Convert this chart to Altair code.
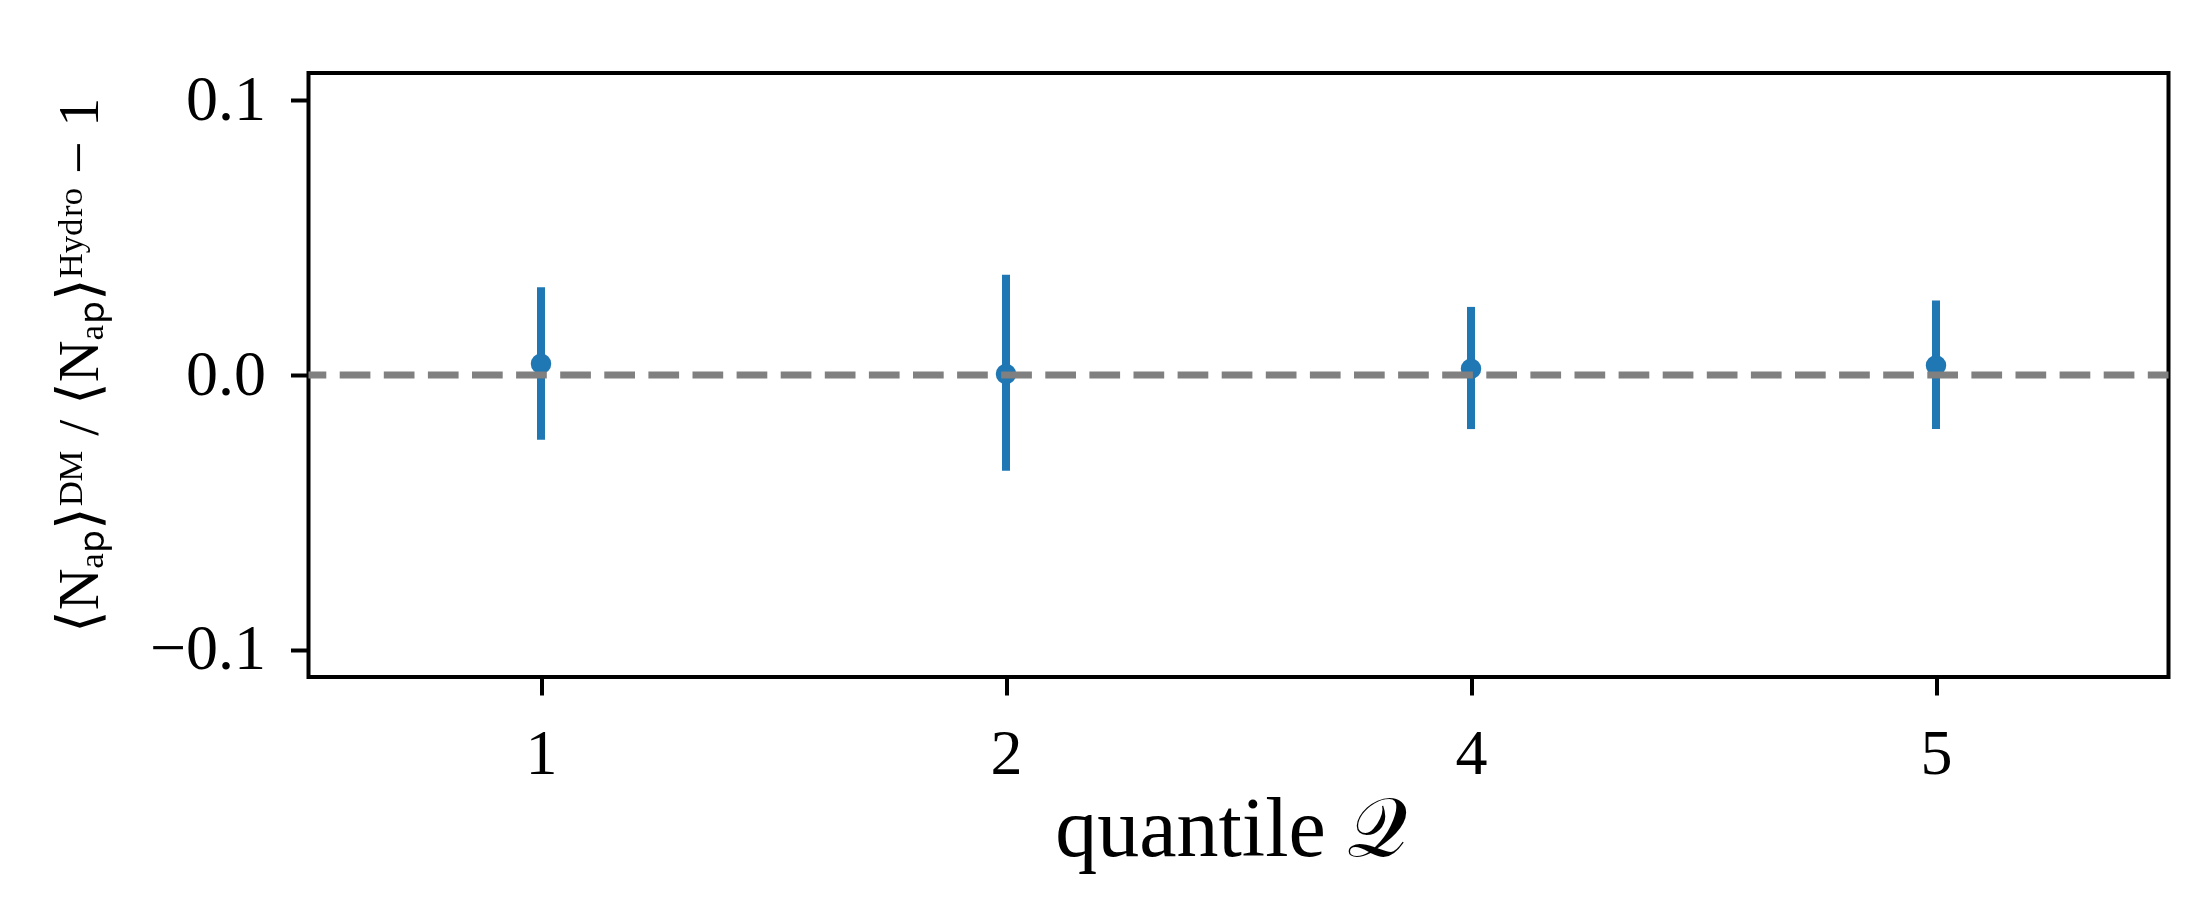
import altair as alt
import pandas as pd

# ---- data ----
quantile_labels = ["1", "2", "4", "5"]
ratio_values = [0.0041, 0.0004, 0.0023, 0.0035]
ratio_lower = [-0.0236, -0.0349, -0.0197, -0.0197]
ratio_upper = [0.0320, 0.0365, 0.0248, 0.0271]
zero_line = [0.0]
y_ticks = [-0.1, 0.0, 0.1]

df = pd.DataFrame({"q": quantile_labels, "v": ratio_values,
                   "lo": ratio_lower, "hi": ratio_upper})
zdf = pd.DataFrame({"z": zero_line})

FONT = "Liberation Serif"
BLUE = "#1f77b4"

x_enc = alt.X(
    "q:O",
    sort=quantile_labels,
    scale=alt.Scale(type="point", padding=0.5),
    axis=alt.Axis(
        title="quantile 𝒬",
        labelAngle=0,
        labelFont=FONT, labelFontSize=64, labelColor="black", labelPadding=27,
        tickColor="black", tickWidth=4, tickSize=18, domain=False, grid=False,
        titleFont=FONT, titleFontSize=84, titleFontWeight="normal", titleColor="black",
        titleY=178, titleX=922, titleBaseline="alphabetic",
    ),
)

y_scale = alt.Scale(domain=[-0.11, 0.11], nice=False, zero=False)
y_axis = alt.Axis(
    values=y_ticks, format=".1f",
    title="⟨Nₐₚ⟩ᴰᴹ / ⟨Nₐₚ⟩ᴴʸᵈʳᵒ − 1",
    labelFont=FONT, labelFontSize=64, labelColor="black", labelPadding=25,
    tickColor="black", tickWidth=4, tickSize=18, domain=False, grid=False,
    titleFont=FONT, titleFontSize=58, titleFontWeight="normal", titleColor="black",
    titleX=-211.5, titleY=292, titleBaseline="alphabetic",
)

errbars = alt.Chart(df).mark_rule(color=BLUE, strokeWidth=8).encode(
    x=x_enc,
    y=alt.Y("lo:Q", scale=y_scale, axis=y_axis),
    y2="hi:Q",
)

points = alt.Chart(df).mark_circle(color=BLUE, size=420, opacity=1).encode(
    x=x_enc,
    y=alt.Y("v:Q", scale=y_scale, axis=y_axis),
)

zero = alt.Chart(zdf).mark_rule(
    color="#808080", strokeWidth=7, strokeDash=[30.7, 13.4], strokeDashOffset=10
).encode(y=alt.Y("z:Q", scale=y_scale, axis=y_axis))

chart = (
    alt.layer(errbars, points, zero)
    .properties(
        width=1860, height=604,
        autosize=alt.AutoSizeParams(type="none"),
        padding={"left": 300.5, "top": 65, "right": 30, "bottom": 220},
        background="white",
    )
    .configure_view(stroke="black", strokeWidth=4)
)

chart.save("out.html", embed_options={"renderer": "svg", "actions": False})
